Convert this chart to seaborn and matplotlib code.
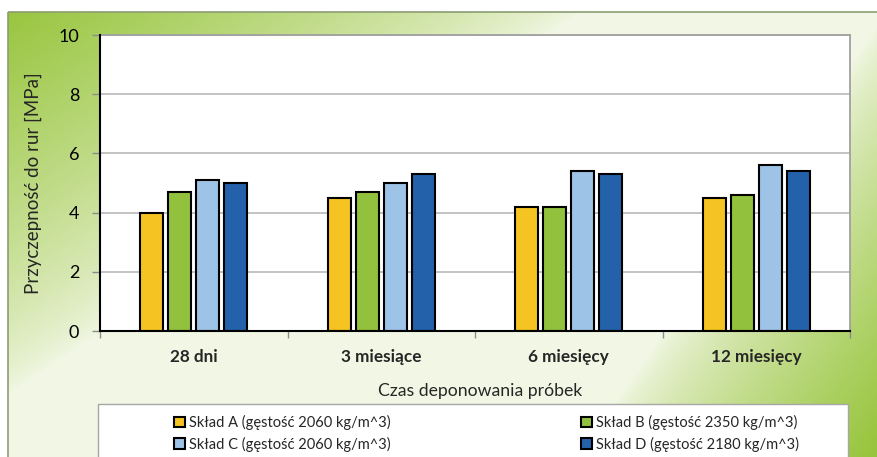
import numpy as np
import pandas as pd
import matplotlib
matplotlib.use("Agg")
import matplotlib.pyplot as plt
from matplotlib.patches import Rectangle
import seaborn as sns

# --- data -------------------------------------------------------------
czas = ["28 dni", "3 miesiące", "6 miesięcy", "12 miesięcy"]
sklady = [
    "Skład A (gęstość 2060 kg/m^3)",
    "Skład B (gęstość 2350 kg/m^3)",
    "Skład C (gęstość 2060 kg/m^3)",
    "Skład D (gęstość 2180 kg/m^3)",
]
sklad_a = [4.0, 4.5, 4.2, 4.5]
sklad_b = [4.7, 4.7, 4.2, 4.6]
sklad_c = [5.1, 5.0, 5.4, 5.6]
sklad_d = [5.0, 5.3, 5.3, 5.4]
y_ticks = [0, 2, 4, 6, 8, 10]

kolory = ["#F5C422", "#92C13E", "#9DC3E6", "#2461AB"]

df = pd.DataFrame({
    "czas": czas * 4,
    "sklad": [s for s in sklady for _ in czas],
    "wartosc": sklad_a + sklad_b + sklad_c + sklad_d,
})

# --- figure -----------------------------------------------------------
sns.set_theme(style="white")
plt.rcParams["font.family"] = ["Lato", "DejaVu Sans"]

W, H = 877, 457
fig = plt.figure(figsize=(W / 100, H / 100), dpi=100)
fig.patch.set_facecolor("white")

# background panel with green corner gradients
bg = fig.add_axes([0, 0, 1, 1], zorder=-1)
bg.set_xlim(0, W)
bg.set_ylim(H, 0)
bg.axis("off")
xs, ys = np.meshgrid(np.arange(W) + 0.5, np.arange(H) + 0.5)
w1 = np.clip(1 - (xs / 600 + ys / 400), 0, 1)
w2 = np.clip(1 - ((W - xs) / 300 + (H - ys) / 430), 0, 1)
wgt = np.maximum(w1, w2) ** 0.75
green = np.array([150, 196, 58]) / 255
pale = np.array([242, 247, 229]) / 255
img = pale[None, None, :] * (1 - wgt[..., None]) + green[None, None, :] * wgt[..., None]
bg.imshow(img, extent=(0, W, H, 0), interpolation="bilinear", aspect="auto")
# white margin above and left of the panel
bg.add_patch(Rectangle((0, 0), W, 12, facecolor="white", edgecolor="none"))
bg.add_patch(Rectangle((0, 0), 8, H, facecolor="white", edgecolor="none"))
bg.add_patch(Rectangle((8, 12), W, H, facecolor="none", edgecolor="#8C9C74", lw=1.2))
# legend box
bg.add_patch(Rectangle((98, 404), 750, 70, facecolor="white", edgecolor="#A6A6A6", lw=1))

# --- plot area --------------------------------------------------------
ax = fig.add_axes([100 / W, 1 - 331 / H, 750 / W, 296 / H])
ax.set_facecolor("white")
sns.barplot(
    data=df, x="czas", y="wartosc", hue="sklad", hue_order=sklady, order=czas,
    palette=kolory, saturation=1, width=0.6, gap=0.18, edgecolor="black",
    linewidth=1.5, errorbar=None, ax=ax, zorder=3,
)

ax.set_ylim(0, 10)
ax.set_xlim(-0.5, 3.5)
ax.set_yticks(y_ticks)
ax.set_yticklabels([str(t) for t in y_ticks], fontsize=13, color="black")
ax.yaxis.grid(True, color="#B3B3B3", lw=1.1)
ax.set_axisbelow(True)

ax.tick_params(axis="y", which="major", length=6, width=1, color="#8C8C8C",
               left=True, pad=9)
ax.tick_params(axis="x", which="major", length=0, pad=13)
ax.set_xticks(np.arange(-0.5, 4, 1), minor=True)
ax.tick_params(axis="x", which="minor", length=5, width=1, color="#8C8C8C",
               bottom=True)
for lab in ax.get_xticklabels():
    lab.set_fontweight("bold")
    lab.set_fontsize(12.3)

for side in ["top", "right"]:
    ax.spines[side].set_color("#A0A0A0")
    ax.spines[side].set_linewidth(1.3)
for side in ["left", "bottom"]:
    ax.spines[side].set_color("black")
    ax.spines[side].set_linewidth(1.5)
    ax.spines[side].set_zorder(4)

ax.set_xlabel("")
ax.set_ylabel("")
fig.text(480 / W, 1 - 391 / H, "Czas deponowania próbek", ha="center",
         va="center", fontsize=12.7)
fig.text(33 / W, 1 - 183 / H, "Przyczepność do rur [MPa]", ha="center",
         va="center", rotation=90, fontsize=13.5)

# legend laid out row by row: A B / C D
handles, labels = ax.get_legend_handles_labels()
order = [0, 2, 1, 3]
ax.legend(
    [handles[i] for i in order], [labels[i] for i in order],
    loc="upper left", bbox_to_anchor=(174 / W, 1 - 415 / H),
    bbox_transform=fig.transFigure, ncol=2, frameon=False,
    fontsize=10.5, handlelength=0.75, handleheight=0.75, handletextpad=0.25,
    borderpad=0, borderaxespad=0, labelspacing=0.45, columnspacing=13.1,
)

fig.savefig("out.png", dpi=100, facecolor=fig.get_facecolor())
